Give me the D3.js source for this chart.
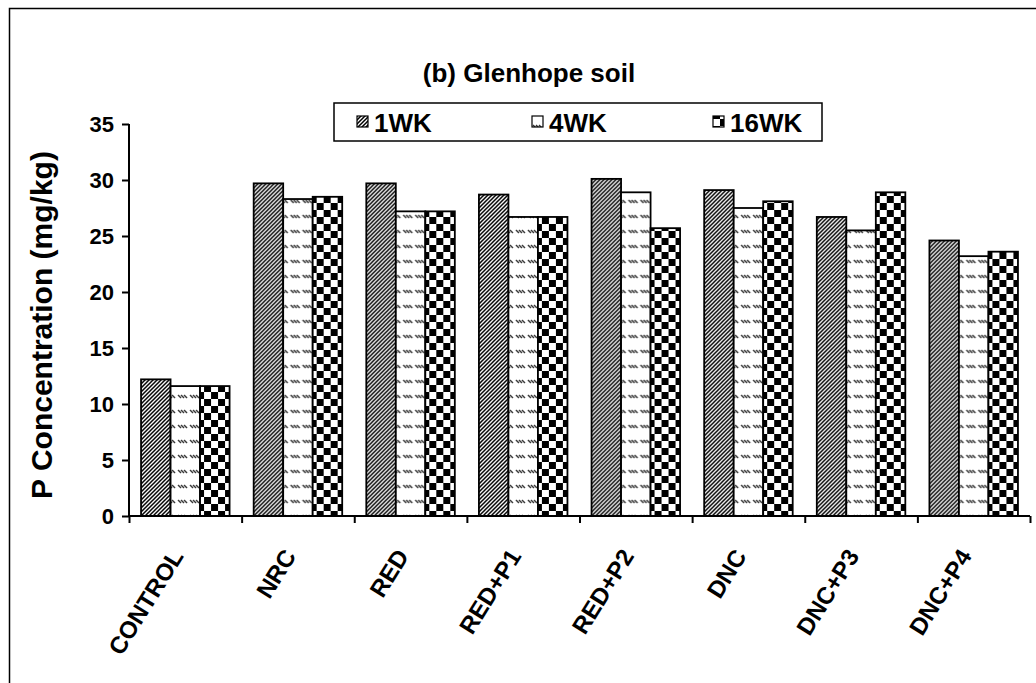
<!DOCTYPE html>
<html>
<head>
<meta charset="utf-8">
<script src="https://cdn.jsdelivr.net/npm/d3@7.9.0/dist/d3.min.js"></script>
<style>
  body { margin: 0; background: #fff; }
  text { font-family: Arial, "Liberation Sans", sans-serif; font-weight: bold; fill: #000; }
</style>
</head>
<body>
<div id="viz"></div>
<script>
const categories = ["CONTROL", "NRC", "RED", "RED+P1", "RED+P2", "DNC", "DNC+P3", "DNC+P4"];
const seriesNames = ["1WK", "4WK", "16WK"];
const wk1 = [12.2, 29.7, 29.7, 28.7, 30.1, 29.1, 26.7, 24.6];
const wk4 = [11.6, 28.3, 27.2, 26.7, 28.9, 27.5, 25.5, 23.2];
const wk16 = [11.6, 28.5, 27.2, 26.7, 25.7, 28.1, 28.9, 23.6];
const yTicks = [0, 5, 10, 15, 20, 25, 30, 35];

const width = 1036, height = 683;
const plotL = 129, plotR = 1030, plotT = 124, plotB = 516;

const svg = d3.select("#viz").append("svg")
  .attr("width", width)
  .attr("height", height);

// fill patterns (hatch, dashes, checker)
const defs = svg.append("defs");
const p1 = defs.append("pattern").attr("id", "pat1")
  .attr("patternUnits", "userSpaceOnUse").attr("width", 4).attr("height", 4);
p1.append("rect").attr("width", 4).attr("height", 4).attr("fill", "#fff");
p1.append("path").attr("d", "M-1,1 L1,-1 M0,4 L4,0 M3,5 L5,3")
  .attr("stroke", "#000").attr("stroke-width", 1.5);

const p2 = defs.append("pattern").attr("id", "pat2")
  .attr("patternUnits", "userSpaceOnUse").attr("width", 12).attr("height", 15);
p2.append("rect").attr("width", 12).attr("height", 15).attr("fill", "#fff");
[1, 4, 7].forEach(x => {
  p2.append("path").attr("d", `M${x},5 L${x + 3},8`)
    .attr("stroke", "#333").attr("stroke-width", 1.4);
});

const p3 = defs.append("pattern").attr("id", "pat3")
  .attr("patternUnits", "userSpaceOnUse").attr("width", 14).attr("height", 14);
p3.append("rect").attr("width", 14).attr("height", 14).attr("fill", "#fff");
p3.append("rect").attr("width", 7).attr("height", 7).attr("fill", "#000");
p3.append("rect").attr("x", 7).attr("y", 7).attr("width", 7).attr("height", 7).attr("fill", "#000");

const fills = ["url(#pat1)", "url(#pat2)", "url(#pat3)"];

// outer frame
svg.append("rect")
  .attr("x", 9.5).attr("y", 8.5)
  .attr("width", 1100).attr("height", 800)
  .attr("fill", "none").attr("stroke", "#000").attr("stroke-width", 1.5);

const x0 = d3.scaleBand().domain(categories).range([plotL, plotR])
  .paddingInner(0.214).paddingOuter(0.107);
const x1 = d3.scaleBand().domain(seriesNames).range([0, x0.bandwidth()]);
const y = d3.scaleLinear().domain([0, 35]).range([plotB, plotT]);

const rows = categories.map((c, i) => ({
  cat: c,
  vals: [wk1[i], wk4[i], wk16[i]]
}));

const groups = svg.append("g").selectAll("g")
  .data(rows)
  .join("g")
  .attr("transform", d => `translate(${x0(d.cat)},0)`);

groups.selectAll("rect")
  .data(d => d.vals.map((v, j) => ({ s: seriesNames[j], v, j })))
  .join("rect")
  .attr("x", d => x1(d.s))
  .attr("y", d => y(d.v))
  .attr("width", x1.bandwidth())
  .attr("height", d => y(0) - y(d.v))
  .attr("fill", d => fills[d.j])
  .attr("stroke", "#000")
  .attr("stroke-width", 1.8);

// y axis
const yAxis = svg.append("g")
  .attr("transform", `translate(${plotL},0)`)
  .call(d3.axisLeft(y).tickValues(yTicks).tickSize(7).tickPadding(8));
yAxis.selectAll("path, line").attr("stroke", "#000").attr("stroke-width", 2);
yAxis.select(".domain").attr("d", `M0,${plotT}V${plotB}`);
yAxis.selectAll("text").style("font-size", "22px").attr("font-family", null);

// x axis, ticks at category boundaries
const xb = d3.scaleLinear().domain([0, categories.length]).range([plotL, plotR]);
const xAxis = svg.append("g")
  .attr("transform", `translate(0,${plotB})`)
  .call(d3.axisBottom(xb).tickValues(d3.range(0, categories.length + 1)).tickSize(7).tickFormat(""));
xAxis.selectAll("path, line").attr("stroke", "#000").attr("stroke-width", 2);
xAxis.select(".domain").attr("d", `M${plotL},0H${plotR}`);

svg.append("g").selectAll("text")
  .data(categories)
  .join("text")
  .attr("transform", d => `translate(${x0(d) + x0.bandwidth() / 2 - 1},556) rotate(-58)`)
  .attr("text-anchor", "end")
  .style("font-size", "24px")
  .text(d => d);

// y label
svg.append("text")
  .attr("transform", "translate(52,325) rotate(-90)")
  .attr("text-anchor", "middle")
  .style("font-size", "30px")
  .text("P Concentration (mg/kg)");

// title
svg.append("text")
  .attr("x", 529).attr("y", 82)
  .attr("text-anchor", "middle")
  .style("font-size", "26px")
  .text("(b) Glenhope soil");

// legend
const legend = svg.append("g");
legend.append("rect")
  .attr("x", 334).attr("y", 103)
  .attr("width", 488).attr("height", 38)
  .attr("fill", "#fff").attr("stroke", "#000").attr("stroke-width", 1.5);
const legX = [357, 532, 713];
const items = legend.selectAll("g.item")
  .data(seriesNames)
  .join("g").attr("class", "item")
  .attr("transform", (d, i) => `translate(${legX[i]},0)`);
items.append("rect")
  .attr("x", 0).attr("y", 116).attr("width", 11).attr("height", 11)
  .attr("fill", (d, i) => fills[i])
  .attr("stroke", "#000").attr("stroke-width", 1.2);
items.append("text")
  .attr("x", 17).attr("y", 132)
  .style("font-size", "26px")
  .text(d => d);
</script>
</body>
</html>
